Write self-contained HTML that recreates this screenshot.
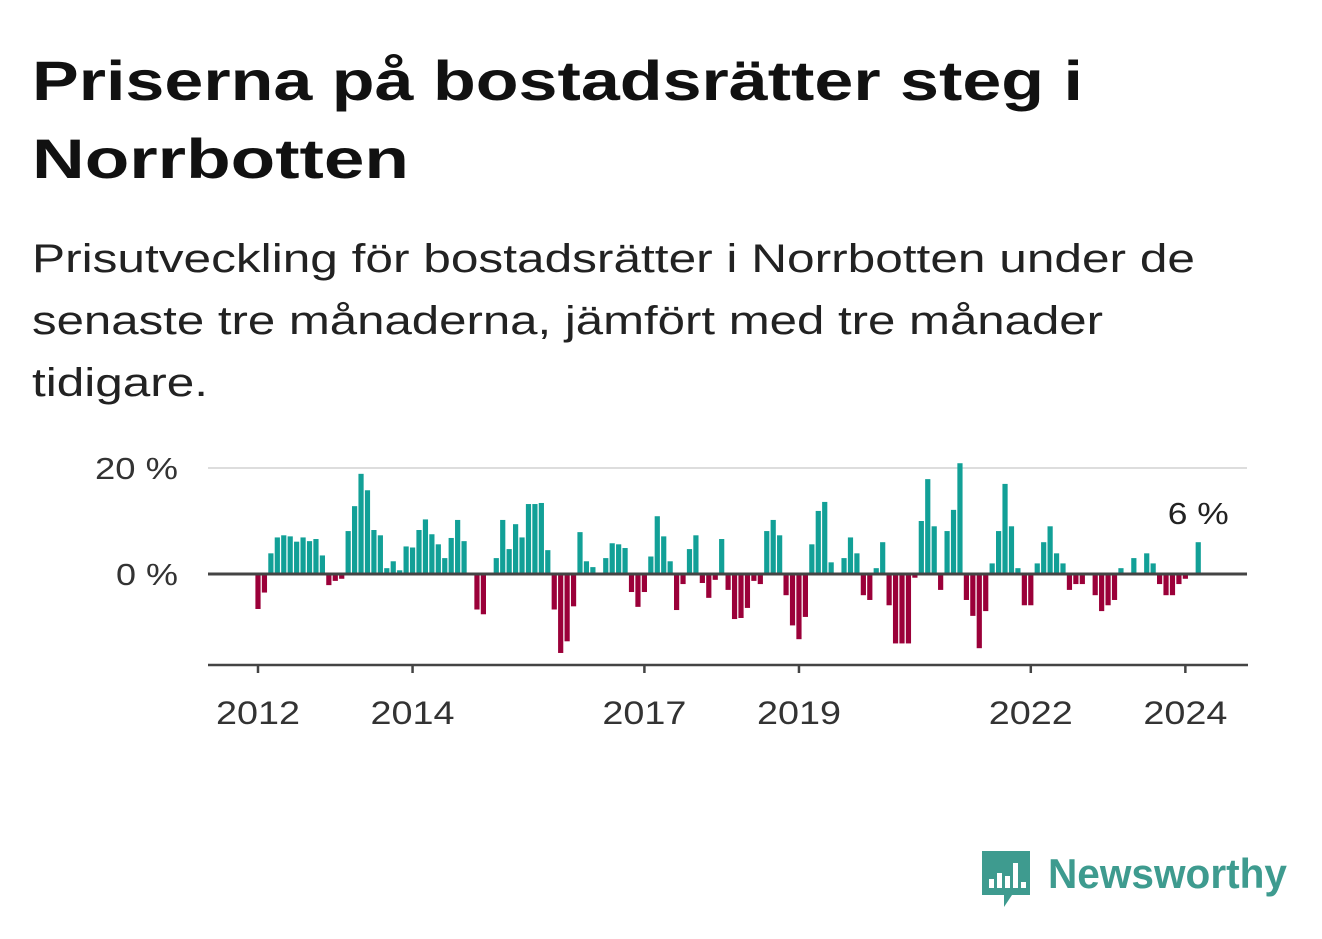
<!DOCTYPE html>
<html><head><meta charset="utf-8">
<style>
html,body{margin:0;padding:0;background:#fff;}
svg{display:block;font-family:"Liberation Sans",sans-serif;}
</style></head>
<body>
<svg id="chart" width="1322" height="939" viewBox="0 0 1322 939" xmlns="http://www.w3.org/2000/svg">
  <text x="32" y="100" font-size="56" font-weight="bold" fill="#111" textLength="1051" lengthAdjust="spacingAndGlyphs">Priserna på bostadsrätter steg i</text>
  <text x="32" y="178" font-size="56" font-weight="bold" fill="#111" textLength="377" lengthAdjust="spacingAndGlyphs">Norrbotten</text>
  <text x="32" y="272" font-size="40" fill="#222" textLength="1163" lengthAdjust="spacingAndGlyphs">Prisutveckling för bostadsrätter i Norrbotten under de</text>
  <text x="32" y="334" font-size="40" fill="#222" textLength="1071" lengthAdjust="spacingAndGlyphs">senaste tre månaderna, jämfört med tre månader</text>
  <text x="32" y="396" font-size="40" fill="#222" textLength="176" lengthAdjust="spacingAndGlyphs">tidigare.</text>
  <g id="plot"></g>
  <g>
    <path d="M982 851 h48 v44 h-18 l-8 12 v-12 h-22 z" fill="#3e9b8f"/>
    <rect x="989" y="879" width="5" height="9" fill="#fff"/>
    <rect x="997" y="873" width="5" height="15" fill="#fff"/>
    <rect x="1005" y="876" width="5" height="12" fill="#fff"/>
    <rect x="1013" y="863" width="5" height="25" fill="#fff"/>
    <rect x="1021" y="882" width="5" height="6" fill="#fff"/>
    <text x="1048" y="888" font-size="42" font-weight="bold" fill="#3e9b8f" textLength="239" lengthAdjust="spacingAndGlyphs">Newsworthy</text>
  </g>
</svg>
<script>
const startYear = 2012;
const values = [-6.6,-3.5,3.9,6.9,7.3,7.1,6.1,6.9,6.2,6.6,3.5,-2.1,
-1.3,-0.9,8.1,12.8,18.9,15.8,8.3,7.3,1.1,2.4,0.7,5.2,
5.0,8.3,10.3,7.5,5.6,3.0,6.8,10.2,6.2,0,-6.7,-7.6,
0,3.0,10.2,4.7,9.4,6.9,13.2,13.2,13.4,4.5,-6.7,-14.9,
-12.7,-6.1,7.9,2.4,1.3,0,3.0,5.8,5.6,4.9,-3.4,-6.2,
-3.4,3.3,10.9,7.1,2.4,-6.8,-1.9,4.7,7.3,-1.7,-4.5,-1.1,
6.6,-3.0,-8.5,-8.3,-6.4,-1.3,-1.9,8.1,10.2,7.3,-4.0,-9.7,
-12.3,-8.1,5.6,11.9,13.6,2.2,0,3.0,6.9,3.9,-4.0,-4.9,
1.1,6.0,-5.9,-13.1,-13.1,-13.1,-0.7,10.0,17.9,9.0,-3.0,8.1,
12.1,20.9,-4.9,-7.9,-14.0,-7.0,2.0,8.1,17.0,9.0,1.1,-5.9,
-5.9,2.0,6.0,9.0,3.9,2.0,-3.0,-1.9,-1.9,0,-4.0,-7.0,
-5.9,-4.9,1.1,0,3.0,0,3.9,2.0,-1.9,-4.0,-4.0,-1.9,
-0.9,0,6.0];
const yTicks = [0, 20];
const yTickLabels = ["0 %", "20 %"];
const xTickYears = [2012, 2014, 2017, 2019, 2022, 2024];
const lastLabel = "6 %";

const NS = "http://www.w3.org/2000/svg";
const plot = document.getElementById("plot");
const X0 = 258, monthW = 6.44, Y0 = 574, perPct = 5.3;
const xScale = m => X0 + m * monthW;
const yScale = v => Y0 - v * perPct;
function mk(tag, attrs){const e=document.createElementNS(NS,tag);for(const k in attrs)e.setAttribute(k,attrs[k]);plot.appendChild(e);return e;}

yTicks.forEach((t,i)=>{
  if(t!==0){
    const g = mk("line",{x1:208,x2:1247,y1:yScale(t),y2:yScale(t),stroke:"#dddddd","stroke-width":2});
    
    
  }
  const lbl = yTickLabels[i];
  const l = mk("text",{x:178,y:yScale(t)+11,"text-anchor":"end","font-size":31,fill:"#333",textLength:lbl.length>3?83:62,lengthAdjust:"spacingAndGlyphs"});
  l.textContent = lbl;
  
  
});

values.forEach((v,i)=>{
  if(v===0) return;
  const y = v>0 ? yScale(v) : Y0;
  const r = mk("rect",{x:xScale(i)-2.6,y:y,width:5.2,height:Math.abs(v)*perPct,fill:v>0?"#12a097":"#9b0039"});
  
  
});

const zl = mk("line",{x1:208,x2:1247,y1:Y0,y2:Y0,stroke:"#444","stroke-width":3});



const ax = mk("line",{x1:208,x2:1248,y1:665,y2:665,stroke:"#444","stroke-width":2.5});



xTickYears.forEach(yr=>{
  const x = xScale((yr-startYear)*12);
  const t = mk("line",{x1:x,x2:x,y1:665,y2:673,stroke:"#444","stroke-width":2.5});
  
  
  const l = mk("text",{x:x,y:724,"text-anchor":"middle","font-size":32,fill:"#333",textLength:84,lengthAdjust:"spacingAndGlyphs"});
  l.textContent = String(yr);
  
  
});

const last = values.length-1;
const ll = mk("text",{x:xScale(last),y:yScale(values[last])-18,"text-anchor":"middle","font-size":31,fill:"#222",textLength:61,lengthAdjust:"spacingAndGlyphs"});
ll.textContent = lastLabel;


</script>
</body></html>
